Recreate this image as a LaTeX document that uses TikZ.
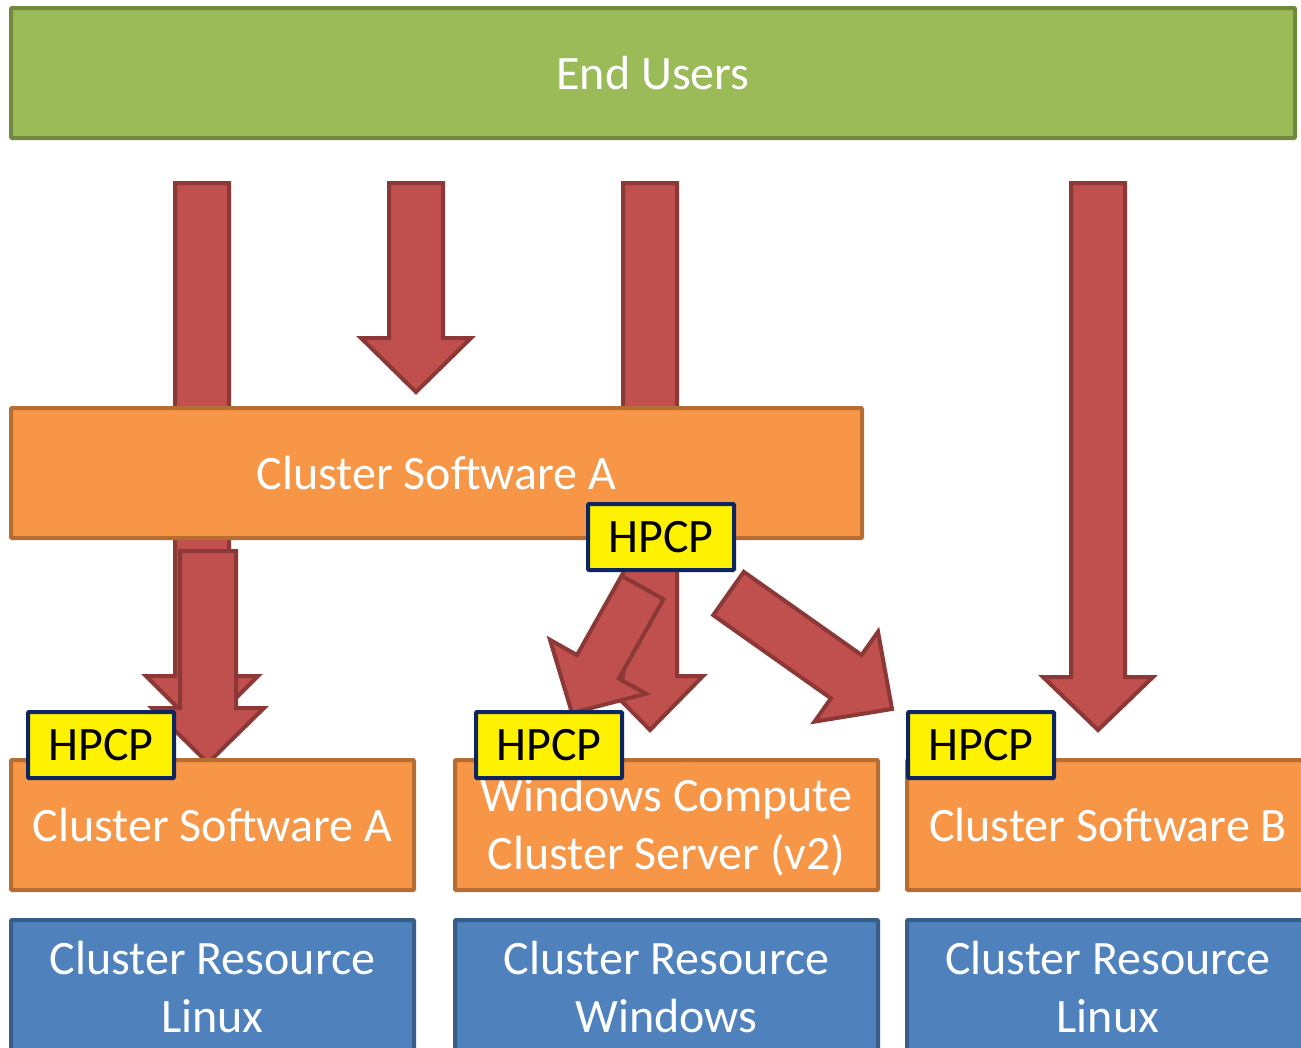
\documentclass[tikz,border=0pt]{standalone}
\usepackage{fontspec}
\setmainfont{Carlito}
\usetikzlibrary{calc}
\definecolor{gfill}{HTML}{9BBB59}
\definecolor{gline}{HTML}{71893F}
\definecolor{ofill}{HTML}{F79646}
\definecolor{oline}{HTML}{B66D31}
\definecolor{rfill}{HTML}{C0504D}
\definecolor{rline}{HTML}{8C3836}
\definecolor{bfill}{HTML}{4F81BD}
\definecolor{bline}{HTML}{385D8A}
\definecolor{hline}{HTML}{0D2560}
\tikzset{
  every node/.style={font=\fontsize{48}{58}\selectfont, inner sep=0pt},
  greenbox/.style={draw=gline, fill=gfill, line width=4pt, rounded corners=1pt, text=white},
  orangebox/.style={draw=oline, fill=ofill, line width=4pt, rounded corners=1pt, text=white, align=center},
  bluebox/.style={draw=bline, fill=bfill, line width=4pt, rounded corners=1pt},
  whitetext/.style={text=white, align=center},
  hpcpbox/.style={draw=hline, fill=yellow, line width=4pt, rounded corners=1pt, text=black, minimum width=146, minimum height=66},
  blk/.style={draw=rline, fill=rfill, line width=4pt, line join=miter}
}
\newcommand{\blkarrow}[6]{%
  \coordinate (#1-n) at ($(#3)!#6!(#2)$);
  \draw[blk] ($(#2)!#4!90:(#3)$) -- ($(#1-n)!#4!90:(#3)$) -- ($(#1-n)!#5!90:(#3)$) -- (#3)
    -- ($(#1-n)!#5!-90:(#3)$) -- ($(#1-n)!#4!-90:(#3)$) -- ($(#2)!#4!-90:(#3)$) -- cycle;
}
\begin{document}
\begin{tikzpicture}[x=1pt, y=-1pt]
\useasboundingbox (0,0) rectangle (1301,1047);
\clip (0,0) rectangle (1301,1047);
\fill[white] (0,0) rectangle (1301,1047);

% End users
\node[greenbox, minimum width=1284, minimum height=130] (eu) at (653,73) {End Users};

% arrow coordinates
\coordinate (e1s) at (202,183); \coordinate (e1e) at (202,732);
\coordinate (e2s) at (416,183); \coordinate (e2e) at (416,392);
\coordinate (e3s) at (650,183); \coordinate (e3e) at (650,730);
\coordinate (e4s) at (1098,183); \coordinate (e4e) at (1098,730);
\coordinate (f1s) at (208,551); \coordinate (f1e) at (208,763);
\coordinate (dls) at (642.5,587.5); \coordinate (dle) at (572,713);
\coordinate (drs) at (728.5,593.5); \coordinate (dre) at (892,709);

\blkarrow{a1}{e1s}{e1e}{27pt}{56pt}{56pt}
\blkarrow{a2}{e2s}{e2e}{27pt}{55pt}{54pt}
\blkarrow{a3}{e3s}{e3e}{27pt}{53pt}{54pt}
\blkarrow{a4}{e4s}{e4e}{27pt}{55pt}{53pt}

% top cluster software A
\node[orangebox, minimum width=851, minimum height=130] (csatop) at (436.5,473) {Cluster Software A};
\node[hpcpbox] (hptop) at (661,537) {HPCP};

\blkarrow{a5}{f1s}{f1e}{28pt}{56pt}{55pt}
\blkarrow{a6}{dls}{dle}{24pt}{55pt}{53pt}
\blkarrow{a7}{drs}{dre}{26.5pt}{55pt}{56pt}

% bottom software boxes
\node[orangebox, minimum width=403, minimum height=130] (csa) at (212.5,825) {Cluster Software A};
\node[orangebox, minimum width=423, minimum height=130] (wcc) at (666.5,825) {};
\node[whitetext] (wcct) at (666.5,827) {Windows Compute\\Cluster Server (v2)};
\node[orangebox, minimum width=402, minimum height=130] (csb) at (1108,825) {Cluster Software B};

\node[hpcpbox] (hp1) at (101,745) {HPCP};
\node[hpcpbox] (hp2) at (549,745) {HPCP};
\node[hpcpbox] (hp3) at (981,745) {HPCP};

% resources
\node[bluebox, minimum width=403, minimum height=140] (cr1) at (212.5,990) {};
\node[bluebox, minimum width=423, minimum height=140] (cr2) at (666.5,990) {};
\node[bluebox, minimum width=402, minimum height=140] (cr3) at (1108,990) {};
\node[whitetext] (t1) at (212.5,987) {Cluster Resource\\Linux};
\node[whitetext] (t2) at (666.5,987) {Cluster Resource\\Windows};
\node[whitetext] (t3) at (1108,987) {Cluster Resource\\Linux};
\end{tikzpicture}
\end{document}
